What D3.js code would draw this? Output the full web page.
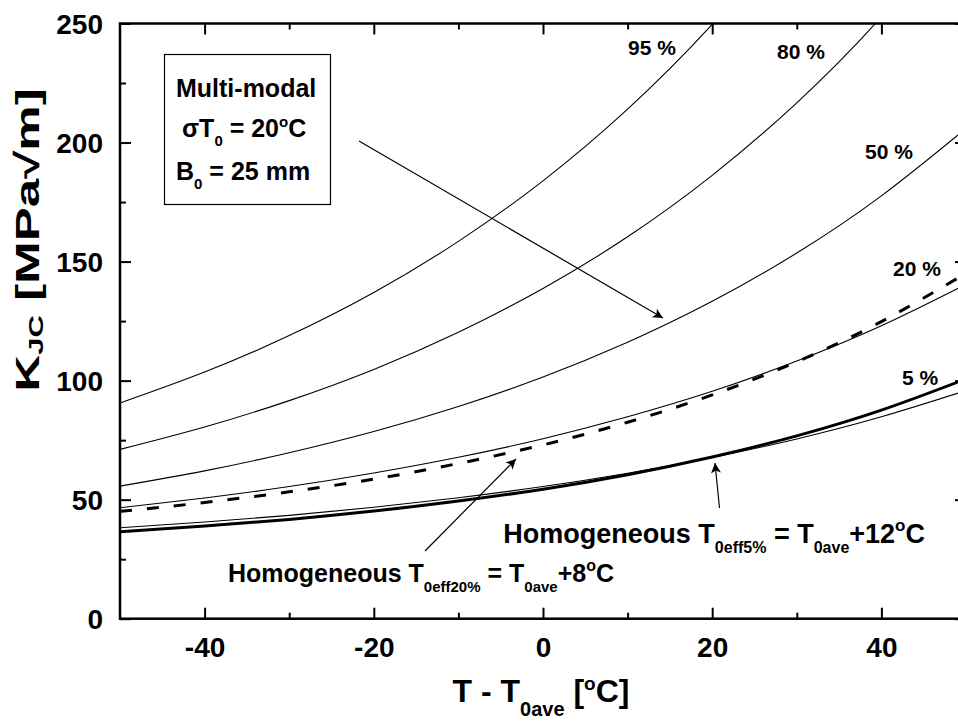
<!DOCTYPE html>
<html><head><meta charset="utf-8">
<script src="https://cdn.jsdelivr.net/npm/d3@7"></script>
<style>
body{margin:0;background:#fff}
svg{display:block}
text{font-family:"Liberation Sans",Arial,sans-serif;font-weight:bold;fill:#000}
</style>
</head><body>
<svg id="c" width="958" height="724"></svg>
<script>
// ---- data ----
const temps = [-50, -40, -30, -20, -10, 0, 10, 20, 30, 40, 50];
const multi95 = [90.6, 103.6, 118.9, 137.0, 158.5, 183.9, 214.0, 249.6, 291.8, 341.7, 400.7];
const multi80 = [71.1, 80.5, 91.6, 104.7, 120.3, 138.7, 160.4, 186.2, 216.7, 252.8, 295.6];
const multi50 = [55.7, 62.1, 69.7, 78.6, 89.1, 101.5, 116.1, 133.3, 153.6, 177.6, 205.9];
const multi20 = [46.6, 50.7, 55.5, 61.2, 67.8, 75.6, 84.8, 95.5, 108.2, 123.0, 140.4];
const multi5  = [38.2, 40.6, 43.4, 46.8, 50.8, 55.5, 61.1, 67.7, 75.5, 84.8, 95.8];
const homog20 = [45.1, 48.8, 53.3, 58.6, 65.2, 73.0, 82.5, 94.0, 107.9, 124.8, 145.1];
const homog5  = [36.5, 38.9, 41.7, 45.2, 49.4, 54.4, 60.5, 67.9, 76.8, 87.6, 100.7];
const pctLabels = ["95 %", "80 %", "50 %", "20 %", "5 %"];
const xMajor = [-40, -20, 0, 20, 40];
const xMinor = [-30, -10, 10, 30];
const yMajor = [0, 50, 100, 150, 200, 250];
const yMinor = [25, 75, 125, 175, 225];

// ---- layout ----
const svg = d3.select("#c");
const L = 120, R = 966, T = 23.5, B = 618.7;
const x = d3.scaleLinear().domain([-50, 50]).range([L, R]);
const y = d3.scaleLinear().domain([0, 250]).range([B, T]);

const defs = svg.append("defs");
defs.append("clipPath").attr("id", "clip")
  .append("rect").attr("x", L).attr("y", T).attr("width", R - L).attr("height", B - T);
defs.append("marker").attr("id", "ah").attr("viewBox", "0 0 10 10")
  .attr("refX", 10).attr("refY", 5).attr("markerWidth", 18).attr("markerHeight", 10)
  .attr("markerUnits", "userSpaceOnUse").attr("orient", "auto")
  .append("path").attr("d", "M0,0 L10,5 L0,10 L2.5,5 Z").attr("fill", "#000");

const line = d3.line().x((d, i) => x(temps[i])).y(d => y(d)).curve(d3.curveNatural);
const g = svg.append("g").attr("clip-path", "url(#clip)");

const series = [
  {v: multi95, w: 1.1},
  {v: multi80, w: 1.1},
  {v: multi50, w: 1.1},
  {v: multi20, w: 1.1},
  {v: multi5, w: 1.1},
  {v: homog5, w: 3},
  {v: homog20, w: 3, dash: "12,15"}
];
series.forEach(s => {
  g.append("path").attr("d", line(s.v)).attr("fill", "none").attr("stroke", "#000")
    .attr("stroke-width", s.w).attr("stroke-dasharray", s.dash || null);
});

// ---- axes ----
function styleAxis(sel) {
  sel.select(".domain").remove();
  sel.selectAll("line").attr("stroke", "#000").attr("stroke-width", 2);
}
const ax = svg.append("g").attr("transform", `translate(0,${B})`)
  .call(d3.axisBottom(x).tickValues(xMajor).tickSize(-11).tickPadding(0).tickFormat(d3.format("d")));
styleAxis(ax);
ax.selectAll("text").attr("y", 38).attr("dy", null).attr("font-size", 28).text(d => d < 0 ? "-" + Math.abs(d) : d);
svg.append("g").attr("transform", `translate(0,${B})`)
  .call(d3.axisBottom(x).tickValues(xMinor).tickSize(-6).tickFormat("")).call(styleAxis);
svg.append("g").attr("transform", `translate(0,${T})`)
  .call(d3.axisTop(x).tickValues(xMajor).tickSize(-11).tickFormat("")).call(styleAxis);
svg.append("g").attr("transform", `translate(0,${T})`)
  .call(d3.axisTop(x).tickValues(xMinor).tickSize(-6).tickFormat("")).call(styleAxis);

const ay = svg.append("g").attr("transform", `translate(${L},0)`)
  .call(d3.axisLeft(y).tickValues(yMajor).tickSize(-11).tickPadding(17));
styleAxis(ay);
ay.selectAll("text").attr("font-size", 28).attr("dy", "0.36em").attr("x", -17);
svg.append("g").attr("transform", `translate(${L},0)`)
  .call(d3.axisLeft(y).tickValues(yMinor).tickSize(-6).tickFormat("")).call(styleAxis);
svg.append("g").attr("transform", `translate(${R},0)`)
  .call(d3.axisRight(y).tickValues(yMajor).tickSize(-11).tickFormat("")).call(styleAxis);
svg.append("g").attr("transform", `translate(${R},0)`)
  .call(d3.axisRight(y).tickValues(yMinor).tickSize(-6).tickFormat("")).call(styleAxis);

svg.append("rect").attr("x", L).attr("y", T).attr("width", R - L).attr("height", B - T)
  .attr("fill", "none").attr("stroke", "#000").attr("stroke-width", 2.5);

// ---- axis titles ----
const xt = svg.append("text").attr("x", 541).attr("y", 702).attr("text-anchor", "middle").attr("font-size", 32);
xt.append("tspan").text("T - T");
xt.append("tspan").attr("font-size", 20).attr("dy", 14).text("0ave");
xt.append("tspan").attr("dy", -14).text(" [");
xt.append("tspan").attr("font-size", 19).attr("dy", -12).text("o");
xt.append("tspan").attr("dy", 12).text("C]");

const yt = svg.append("text").attr("transform", "translate(39,240) rotate(-90) scale(1.55,1)")
  .attr("text-anchor", "middle").attr("font-size", 33);
yt.append("tspan").text("K");
yt.append("tspan").attr("font-size", 20).attr("dy", 4).text("JC");
yt.append("tspan").attr("dy", -4).text(" [MPa\u221Am]");

// ---- percentage labels ----
const pctPos = [[628, 55], [777, 59], [865, 159], [893, 276], [902, 385]];
pctLabels.forEach((t, i) => {
  svg.append("text").attr("x", pctPos[i][0]).attr("y", pctPos[i][1]).attr("font-size", 21).text(t);
});

// ---- legend box ----
svg.append("rect").attr("x", 164.5).attr("y", 54.5).attr("width", 166).attr("height", 150)
  .attr("fill", "#fff").attr("stroke", "#000").attr("stroke-width", 1.2);
svg.append("text").attr("x", 176).attr("y", 97).attr("font-size", 25).text("Multi-modal");
const l2 = svg.append("text").attr("x", 182).attr("y", 137).attr("font-size", 25);
l2.append("tspan").text("\u03C3T");
l2.append("tspan").attr("font-size", 15).attr("dy", 9).text("0");
l2.append("tspan").attr("dy", -9).text(" = 20");
l2.append("tspan").attr("font-size", 15).attr("dy", -10).text("o");
l2.append("tspan").attr("dy", 10).text("C");
const l3 = svg.append("text").attr("x", 176).attr("y", 180).attr("font-size", 25);
l3.append("tspan").text("B");
l3.append("tspan").attr("font-size", 15).attr("dy", 9).text("0");
l3.append("tspan").attr("dy", -9).text(" = 25 mm");

// ---- arrows ----
const arrows = [[359, 141, 663, 318], [425, 551, 516, 459], [719.5, 508, 715, 463]];
arrows.forEach(a => {
  svg.append("line").attr("x1", a[0]).attr("y1", a[1]).attr("x2", a[2]).attr("y2", a[3])
    .attr("stroke", "#000").attr("stroke-width", 1.2).attr("marker-end", "url(#ah)");
});

// ---- annotations ----
const h5 = svg.append("text").attr("x", 925).attr("y", 543).attr("text-anchor", "end").attr("font-size", 27);
h5.append("tspan").text("Homogeneous T");
h5.append("tspan").attr("font-size", 16).attr("dy", 10).text("0eff5%");
h5.append("tspan").attr("dy", -10).text(" = T");
h5.append("tspan").attr("font-size", 16).attr("dy", 10).text("0ave");
h5.append("tspan").attr("dy", -10).text("+12");
h5.append("tspan").attr("font-size", 17).attr("dy", -12).text("o");
h5.append("tspan").attr("dy", 12).text("C");

const h20 = svg.append("text").attr("x", 228).attr("y", 582).attr("font-size", 25);
h20.append("tspan").text("Homogeneous T");
h20.append("tspan").attr("font-size", 15).attr("dy", 10).text("0eff20%");
h20.append("tspan").attr("dy", -10).text(" = T");
h20.append("tspan").attr("font-size", 15).attr("dy", 10).text("0ave");
h20.append("tspan").attr("dy", -10).text("+8");
h20.append("tspan").attr("font-size", 16).attr("dy", -11).text("o");
h20.append("tspan").attr("dy", 11).text("C");
</script>
</body></html>
